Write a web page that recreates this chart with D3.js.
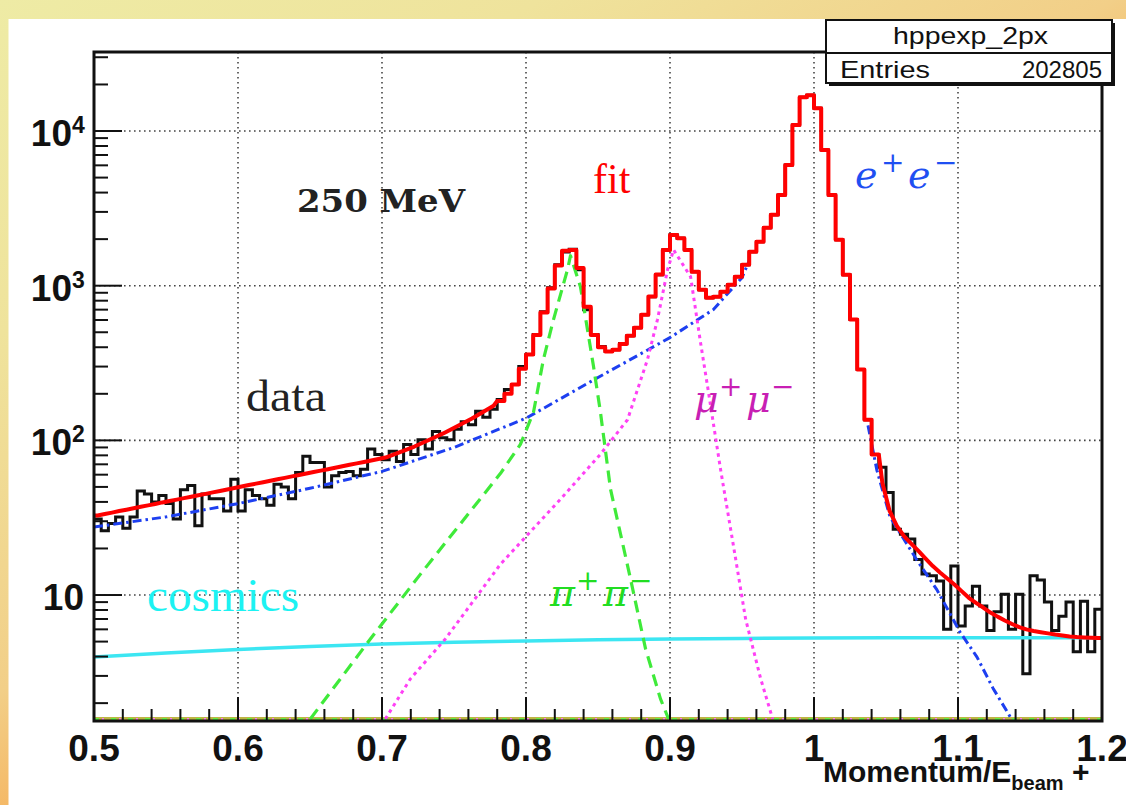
<!DOCTYPE html>
<html><head><meta charset="utf-8">
<script src="https://cdn.jsdelivr.net/npm/d3@7"></script>
<style>body{margin:0;overflow:hidden;background:#fff}</style>
</head><body>
<svg id="c" width="1126" height="805"></svg>
<script>
// ---------- data ----------
const binStart = 0.5, binWidth = 0.005;
const dataCounts = [
 31,26,29,32,27,32,47,45,40,44,
 39,31,48,51,28,45,42,42,35,56,
 35,48,44,42,38,52,50,42,62,79,
 72,72,50,59,62,63,59,65,88,81,
 75,85,73,94,81,101,88,114,104,101,
 118,132,126,154,141,159,184,213,230,300,
 359,483,679,970,1365,1650,1720,1268,700,483,
 404,375,386,423,475,535,650,849,1178,1706,
 2134,2030,1706,1230,942,837,849,914,1014,1142,
 1365,1656,1921,2367,2871,3865,6040,10940,16560,17060,
 14060,7530,3865,1980,1178,604,287,136,81,67,
 46,26.6,24.7,23,17,13.7,13.3,12.3,6.0,15.4,
 6.3,8.5,11.4,8.5,5.9,7.8,10.1,6.0,10.1,3.1,
 13.3,12.5,9.0,5.9,7.3,9.0,4.3,9.1,4.3,8.1];
const fitValues = [
 32.7,33.4,34.1,34.9,35.6,36.4,37.2,38.0,38.8,39.7,
 40.5,41.4,42.3,43.2,44.2,45.1,46.1,47.1,48.1,49.2,
 50.3,51.4,52.5,53.6,54.8,56.0,57.2,58.5,59.7,61.0,
 62.4,63.7,65.1,66.5,68.0,69.5,71.0,72.5,74.1,75.8,
 77.4,80.6,84.0,87.5,91.2,95.8,100.6,105.6,110.9,117.2,
 123.9,131.0,138.5,147.5,157.1,167.3,180,200,230,290,
 359,480,670,960,1350,1680,1700,1300,730,480,
 400,375,385,420,475,535,650,850,1180,1700,
 2130,2030,1700,1230,940,837,849,914,1014,1142,
 1365,1656,1921,2367,2871,3865,6040,10940,16560,17060,
 14060,7530,3865,1980,1178,604,287,136,81,53,
 35,28,24,21.5,19.3,17.2,15.4,14.0,12.8,11.7,
 10.6,9.6,8.9,8.3,7.7,7.25,6.85,6.5,6.2,6.0,
 5.85,5.75,5.65,5.55,5.47,5.4,5.35,5.32,5.3,5.28];
const fitStepFirst = 56, fitStepLast = 108;

// e+e- component (null = hidden under the fit peak)
const eeX = [0.5,0.55,0.6,0.65,0.7,0.75,0.8,0.85,0.9,0.93,0.95,0.955,0.97,1.0375,1.0437,1.0528,1.0715,1.0854,1.1014,1.1132,1.1243,1.1375];
const eeVal = [27.5,32,39,49,63,90,139,255,462,700,1127,1450,null,125,64,32,16.8,10.8,5.77,3.97,2.5,1.56];

const muX = [0.7023,0.7197,0.744,0.7822,0.8239,0.8517,0.8705,0.8844,0.8913,0.8983,0.9025,0.9143,0.9212,0.9261,0.9351,0.9456,0.9525,0.963,0.9713];
const muVal = [1.58,2.87,5.2,15.8,41.6,81.3,136,334,604,1268,1706,1142,429,223,65,17.1,7.0,2.87,1.58];

const piX = [0.6502,0.6919,0.7266,0.7614,0.7822,0.7961,0.8052,0.8121,0.8191,0.8288,0.8309,0.8378,0.8427,0.8469,0.8517,0.8587,0.8726,0.883,0.8934,0.899];
const piVal = [1.58,5.2,13.6,34.8,61,94.2,152,334,604,1268,1563,986,520,300,152,48.3,12.7,4.5,2.13,1.58];

const cosX = [0.5,0.55,0.6,0.65,0.7,0.75,0.8,0.85,0.9,0.95,1.0,1.05,1.1,1.15,1.2];
const cosVal = [3.98,4.22,4.45,4.65,4.83,4.95,5.05,5.13,5.2,5.24,5.27,5.29,5.3,5.3,5.3];

const xTicks = [0.5,0.6,0.7,0.8,0.9,1.0,1.1,1.2];
const xTickLabels = ["0.5","0.6","0.7","0.8","0.9","1","1.1","1.2"];
const yDecades = [10,100,1000,10000];
const yTickBase = ["10","10","10","10"];
const yTickExp = ["","2","3","4"];
const yRange = [1.533, 32430];

const histName = "hppexp_2px";
const entriesLabel = "Entries";
const entriesValue = "202805";

// ---------- drawing ----------
const svg = d3.select("#c");
const W = 1126, H = 805;
const L = 94, R = 1102, T = 52, B = 721;

const defs = svg.append("defs");
const g = defs.append("linearGradient").attr("id","bg").attr("gradientUnits","userSpaceOnUse")
  .attr("x1",0).attr("y1",0).attr("x2",500).attr("y2",805);
g.append("stop").attr("offset",0).attr("stop-color","#eeeba5");
g.append("stop").attr("offset",0.3).attr("stop-color","#efe39c");
g.append("stop").attr("offset",0.62).attr("stop-color","#f2cf88");
g.append("stop").attr("offset",0.74).attr("stop-color","#f5b662");
g.append("stop").attr("offset",1).attr("stop-color","#f6ad58");
defs.append("clipPath").attr("id","plotclip").append("rect")
  .attr("x",L).attr("y",T).attr("width",R-L).attr("height",B-T);

svg.append("rect").attr("width",W).attr("height",H).attr("fill","url(#bg)");
svg.append("rect").attr("x",8.5).attr("y",19).attr("width",W).attr("height",H).attr("fill","#fff");

const x = d3.scaleLinear().domain([0.5,1.2]).range([L,R]);
const y = d3.scaleLog().domain(yRange).range([B,T]);

// grid
const grid = svg.append("g").attr("stroke","#444").attr("stroke-width",1.6).attr("stroke-dasharray","1.6,3.4");
xTicks.slice(1,-1).forEach(t=>grid.append("line").attr("x1",x(t)).attr("x2",x(t)).attr("y1",T).attr("y2",B));
yDecades.forEach(t=>grid.append("line").attr("x1",L).attr("x2",R).attr("y1",y(t)).attr("y2",y(t)));

const plot = svg.append("g").attr("clip-path","url(#plotclip)");

// bottom underflow band
plot.append("line").attr("x1",L).attr("x2",R).attr("y1",B-2).attr("y2",B-2)
  .attr("stroke","#bdb543").attr("stroke-width",4);
plot.append("line").attr("x1",L).attr("x2",R).attr("y1",B-2).attr("y2",B-2)
  .attr("stroke","#66ee44").attr("stroke-width",2).attr("stroke-dasharray","5,12");
plot.append("line").attr("x1",L+8).attr("x2",R).attr("y1",B-2).attr("y2",B-2)
  .attr("stroke","#ff77ee").attr("stroke-width",2).attr("stroke-dasharray","2,15");

// data histogram
const histPts = dataCounts.map((v,i)=>[binStart+i*binWidth, v]);
histPts.push([binStart+dataCounts.length*binWidth, dataCounts[dataCounts.length-1]]);
plot.append("path").attr("d", d3.line().x(d=>x(d[0])).y(d=>y(d[1])).curve(d3.curveStepAfter)(histPts))
  .attr("fill","none").attr("stroke","#111").attr("stroke-width",3);

const lineXY = d3.line().defined(d=>d[1]!=null).x(d=>x(d[0])).y(d=>y(d[1]));
function drawComp(xs, vs, color, w, dash){
  plot.append("path").attr("d", lineXY(xs.map((t,i)=>[t,vs[i]])))
    .attr("fill","none").attr("stroke",color).attr("stroke-width",w)
    .attr("stroke-dasharray",dash).attr("stroke-linejoin","round");
}
drawComp(cosX, cosVal, "#3ce6f2", 3.5, null);
drawComp(eeX, eeVal, "#1d3ff0", 3, "9,4,2.5,4");
drawComp(piX, piVal, "#3fea3a", 3.2, "12,7");
drawComp(muX, muVal, "#ff40f5", 3, "3.5,4");

// fit
const fitPts = [];
fitValues.forEach((v,i)=>{
  const lo = binStart+i*binWidth, hi = lo+binWidth, c = lo+binWidth/2;
  if(i>=fitStepFirst && i<=fitStepLast){ fitPts.push([lo,v],[hi,v]); }
  else if(i===0){ fitPts.push([lo,v],[c,v]); }
  else if(i===fitValues.length-1){ fitPts.push([c,v],[hi,v]); }
  else fitPts.push([c,v]);
});
plot.append("path").attr("d", lineXY(fitPts)).attr("fill","none")
  .attr("stroke","#ff0000").attr("stroke-width",4).attr("stroke-linejoin","round");

// frame
svg.append("rect").attr("x",L).attr("y",T).attr("width",R-L).attr("height",B-T)
  .attr("fill","none").attr("stroke","#111").attr("stroke-width",3);

// ticks
const tk = svg.append("g").attr("stroke","#111").attr("stroke-width",2);
d3.range(0,36).forEach(k=>{
  const t = 0.5 + k*0.02;
  const major = k%5===0;
  tk.append("line").attr("x1",x(t)).attr("x2",x(t)).attr("y1",B).attr("y2",B-(major?24:12));
});
[1,10,100,1000,10000].forEach(dec=>{
  for(let m=1;m<=9;m++){
    const v = dec*m;
    if(v<yRange[0]||v>yRange[1]) continue;
    tk.append("line").attr("x1",L).attr("x2",L+(m===1?28:14)).attr("y1",y(v)).attr("y2",y(v));
  }
});

// tick labels
const fSans = "'Liberation Sans', Arial, sans-serif";
xTicks.forEach((t,i)=>{
  svg.append("text").attr("x",x(t)).attr("y",761).attr("text-anchor","middle")
    .attr("font-family",fSans).attr("font-weight","bold").attr("font-size",37).attr("fill","#111")
    .text(xTickLabels[i]);
});
yDecades.forEach((t,i)=>{
  const ty = y(t);
  const exp = yTickExp[i];
  const base = svg.append("text").attr("y",ty+15).attr("font-family",fSans).attr("font-weight","bold")
    .attr("font-size",37).attr("fill","#111").attr("text-anchor","end").text(yTickBase[i]);
  if(exp){
    base.attr("x",72);
    svg.append("text").attr("x",72).attr("y",ty+2).attr("font-family",fSans).attr("font-weight","bold")
      .attr("font-size",23).attr("fill","#111").text(exp);
  } else base.attr("x",84);
});

// axis title
const at = svg.append("text").attr("y",782).attr("font-family",fSans).attr("font-weight","bold").attr("fill","#111");
at.append("tspan").attr("x",823).attr("font-size",30).text("Momentum/E");
at.append("tspan").attr("font-size",20).attr("dy",8).text("beam");
at.append("tspan").attr("font-size",30).attr("dy",-8).text(" +");

// stats box
svg.append("rect").attr("x",829).attr("y",23).attr("width",286).attr("height",63).attr("fill","#111");
svg.append("rect").attr("x",826).attr("y",20).attr("width",286).attr("height",63).attr("fill","#fff")
  .attr("stroke","#111").attr("stroke-width",2);
svg.append("line").attr("x1",826).attr("x2",1112).attr("y1",53).attr("y2",53).attr("stroke","#111").attr("stroke-width",2);
svg.append("text").attr("x",893).attr("y",44).attr("font-family",fSans).attr("font-size",24).attr("fill","#111")
  .attr("textLength",155).attr("lengthAdjust","spacingAndGlyphs").text(histName);
svg.append("text").attr("x",840).attr("y",78).attr("font-family",fSans).attr("font-size",24).attr("fill","#111")
  .attr("textLength",90).attr("lengthAdjust","spacingAndGlyphs").text(entriesLabel);
svg.append("text").attr("x",1102).attr("y",78).attr("text-anchor","end").attr("font-family",fSans).attr("font-size",24).attr("fill","#111")
  .text(entriesValue);

// annotations
const fSerif = "'Liberation Serif', 'Times New Roman', serif";
svg.append("text").attr("x",297).attr("y",212).attr("font-family","'DejaVu Serif', serif").attr("font-weight","bold")
  .attr("font-size",32).attr("fill","#222").attr("textLength",168).attr("lengthAdjust","spacingAndGlyphs").text("250 MeV");
svg.append("text").attr("x",593).attr("y",193).attr("font-family",fSerif).attr("font-size",42).attr("fill","#ff0000").text("fit");
svg.append("text").attr("x",246).attr("y",411).attr("font-family",fSerif).attr("font-size",44).attr("fill","#222")
  .attr("textLength",80).attr("lengthAdjust","spacingAndGlyphs").text("data");
svg.append("text").attr("x",147).attr("y",611).attr("font-family",fSerif).attr("font-size",46).attr("fill","#1cf2f2")
  .attr("textLength",152).attr("lengthAdjust","spacingAndGlyphs").text("cosmics");

function particle(x0, yb, sym, color, w){
  const fM = "'DejaVu Serif', serif";
  const s = 38, ss = 28;
  svg.append("text").attr("x",x0).attr("y",yb).attr("font-family",fM).attr("font-style","italic").attr("font-size",s).attr("fill",color).text(sym);
  svg.append("text").attr("x",x0+w).attr("y",yb-16).attr("font-family",fM).attr("font-size",ss).attr("fill",color).text("+");
  svg.append("text").attr("x",x0+w+27).attr("y",yb).attr("font-family",fM).attr("font-style","italic").attr("font-size",s).attr("fill",color).text(sym);
  svg.append("text").attr("x",x0+2*w+27).attr("y",yb-16).attr("font-family",fM).attr("font-size",ss).attr("fill",color).text("\u2212");
}
particle(855, 188, "e", "#1f4ff2", 26);
particle(694, 412, "\u03bc", "#c81fb4", 25);
particle(550, 606, "\u03c0", "#22dd22", 26);
</script>
</body></html>
